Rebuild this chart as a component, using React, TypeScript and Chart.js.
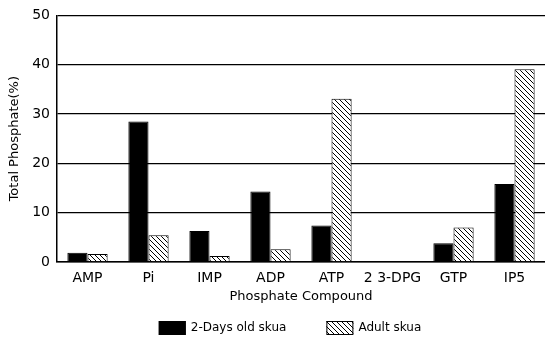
import React, { useEffect, useRef } from "react";
import { Chart, registerables } from "chart.js";

Chart.register(...registerables);

const categories = ["AMP", "Pi", "IMP", "ADP", "ATP", "2 3-DPG", "GTP", "IP5"];
const youngValues = [1.9, 28.5, 6.3, 14.3, 7.4, 0, 3.8, 15.8];
const adultValues = [1.6, 5.4, 1.2, 2.6, 33.1, 0, 7.0, 39.1];
const seriesNames = ["2-Days old skua", "Adult skua"];
const yTicks = [0, 10, 20, 30, 40, 50];

const FONT = "'DejaVu Sans', sans-serif";

function makeHatch(): CanvasPattern | string {
  const s = 5;
  const c = document.createElement("canvas");
  c.width = s;
  c.height = s;
  const g = c.getContext("2d");
  if (!g) return "#fff";
  g.fillStyle = "#fff";
  g.fillRect(0, 0, s, s);
  g.strokeStyle = "#000";
  g.lineWidth = 1;
  g.beginPath();
  g.moveTo(-1, -1);
  g.lineTo(s + 1, s + 1);
  g.moveTo(-1, s - 1);
  g.lineTo(1, s + 1);
  g.moveTo(s - 1, -1);
  g.lineTo(s + 1, 1);
  g.stroke();
  const p = g.createPattern(c, "repeat");
  return p || "#fff";
}

// Legend drawn below the axis title (Chart.js's own legend couples row and item spacing)
const bottomLegend = {
  id: "bottomLegend",
  afterDraw(chart: any) {
    const ctx = chart.ctx;
    const ds = chart.data.datasets;
    const boxW = 27;
    const boxH = 14;
    const textGap = 5;
    const itemGap = 40;
    ctx.save();
    ctx.font = "12px " + FONT;
    const widths = ds.map((d: any) => boxW + textGap + ctx.measureText(d.label).width);
    const total = widths.reduce((a: number, b: number) => a + b, 0) + itemGap * (ds.length - 1);
    const ca = chart.chartArea;
    let x = (ca.left + ca.right) / 2 - total / 2 - 11;
    const cy = chart.height - 9;
    ds.forEach((d: any, i: number) => {
      ctx.fillStyle = d.backgroundColor;
      ctx.fillRect(x, cy - boxH / 2, boxW, boxH);
      ctx.strokeStyle = "#000";
      ctx.lineWidth = 1;
      ctx.strokeRect(x + 0.5, cy - boxH / 2 + 0.5, boxW - 1, boxH - 1);
      ctx.fillStyle = "#000";
      ctx.textBaseline = "middle";
      ctx.textAlign = "left";
      ctx.fillText(d.label, x + boxW + textGap, cy);
      x += widths[i] + itemGap;
    });
    ctx.restore();
  },
};

export default function App() {
  const ref = useRef<HTMLCanvasElement | null>(null);
  useEffect(() => {
    document.body.style.margin = "0";
    if (!ref.current) return;
    const hatch = makeHatch();
    const chart = new Chart(ref.current, {
      type: "bar",
      data: {
        labels: categories,
        datasets: [
          {
            label: seriesNames[0],
            data: youngValues,
            backgroundColor: "#000",
            borderColor: "#000",
            borderWidth: 1,
            barPercentage: 1,
            categoryPercentage: 0.66,
          },
          {
            label: seriesNames[1],
            data: adultValues,
            backgroundColor: hatch as any,
            borderColor: "#000",
            borderWidth: 1,
            barPercentage: 1,
            categoryPercentage: 0.66,
          },
        ],
      },
      plugins: [bottomLegend],
      options: {
        responsive: false,
        animation: false,
        layout: { padding: { top: 15, right: 0, left: 0, bottom: 33 } },
        plugins: {
          tooltip: { enabled: false },
          legend: { display: false },
        },
        scales: {
          x: {
            afterFit: (s: any) => {
              s.height = 42;
            },
            grid: { display: false, drawTicks: false },
            border: { display: true, color: "#000", width: 1.5 },
            ticks: {
              color: "#000",
              font: { family: FONT, size: 14 },
              padding: 8,
              maxRotation: 0,
              autoSkip: false,
            },
            title: {
              display: true,
              text: "Phosphate Compound",
              color: "#000",
              font: { family: FONT, size: 13 },
              padding: { top: 1, bottom: 0 },
            },
          },
          y: {
            min: 0,
            max: 50,
            afterFit: (s: any) => {
              s.width = 57;
            },
            afterBuildTicks: (s: any) => {
              s.ticks = yTicks.map((v) => ({ value: v }));
            },
            grid: {
              color: "#000",
              lineWidth: 1.3,
              drawTicks: false,
            },
            border: { display: true, color: "#000", width: 1.5 },
            ticks: {
              color: "#000",
              font: { family: FONT, size: 14 },
              padding: 7,
            },
            title: {
              display: true,
              text: "Total Phosphate(%)",
              color: "#000",
              font: { family: FONT, size: 13 },
              padding: { top: 7, bottom: 0 },
            },
          },
        },
      },
    });
    return () => chart.destroy();
  }, []);
  return (
    <div style={{ position: "absolute", left: 0, top: 0, width: 545, height: 337, background: "#fff" }}>
      <canvas ref={ref} width={545} height={337} />
    </div>
  );
}
